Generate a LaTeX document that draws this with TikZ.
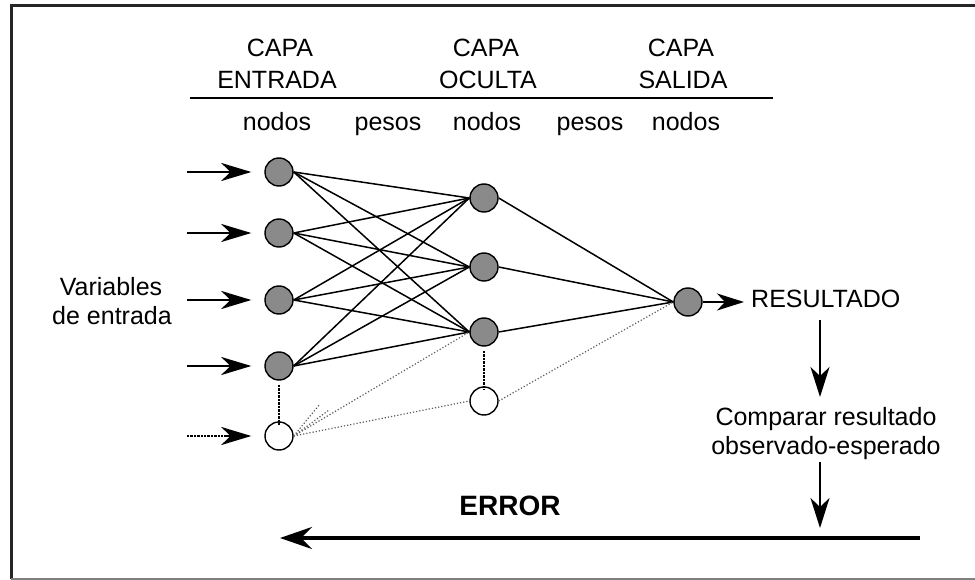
\documentclass[tikz,border=0pt]{standalone}
\usepackage{fontspec}
\setmainfont{Liberation Sans}
\usetikzlibrary{arrows.meta}
\definecolor{nodegray}{RGB}{138,138,138}
\definecolor{dotgray}{RGB}{90,90,90}
\begin{document}
\begin{tikzpicture}[x=1pt,y=-1pt,
  neuron/.style={circle,draw=black,line width=1.4pt,fill=nodegray,minimum size=28pt,inner sep=0pt},
  blank/.style={neuron,fill=white},
  wire/.style={line width=1.5pt},
  dwire/.style={line width=1.2pt,dotted,dotgray},
  vdots/.style={line width=2.5pt,densely dotted,black},
  inarrow/.style={line width=2.4pt,-{Stealth[length=30pt,width=18pt,inset=9pt]},shorten >=13pt},
  outarrow/.style={line width=2.4pt,-{Stealth[length=27pt,width=17pt,inset=8pt]}},
  downarrow/.style={line width=2.4pt,-{Stealth[length=30pt,width=19pt,inset=9pt]}},
  txt/.style={font=\fontsize{25}{30}\selectfont,inner sep=0pt,anchor=base},
  boldtxt/.style={font=\fontsize{28}{32}\selectfont\bfseries,inner sep=0pt,anchor=base}
]
\useasboundingbox (0,0) rectangle (975,580);
% frame
\draw[line width=3pt,black!85] (990,6) -- (11,6) -- (11,579);
\draw[line width=2pt,gray] (11,579) -- (990,579);

% header
\node[txt] (c1a) at (280,57) {CAPA};
\node[txt] (c1b) at (277,89) {ENTRADA};
\node[txt] (c2a) at (486,57) {CAPA};
\node[txt] (c2b) at (488,89) {OCULTA};
\node[txt] (c3a) at (681,57) {CAPA};
\node[txt] (c3b) at (683,89) {SALIDA};
\coordinate (hl) at (190,98);
\coordinate (hr) at (773,98);
\draw[line width=2.2pt] (hl) -- (hr);
\node[txt] (n1) at (277,131) {nodos};
\node[txt] (p1) at (388,131) {pesos};
\node[txt] (n2) at (487,131) {nodos};
\node[txt] (p2) at (590,131) {pesos};
\node[txt] (n3) at (686,131) {nodos};

% neurons
\node[neuron] (i1) at (279,172) {};
\node[neuron] (i2) at (279,233) {};
\node[neuron] (i3) at (279,300) {};
\node[neuron] (i4) at (279,366) {};
\node[blank]  (i5) at (279,436) {};
\node[neuron] (h1) at (484,198) {};
\node[neuron] (h2) at (484,267) {};
\node[neuron] (h3) at (484,332) {};
\node[blank]  (h4) at (484,401) {};
\node[neuron] (o)  at (688,302) {};

% input arrows
\foreach \n/\y in {1/172,2/233,3/300,4/366}{
  \coordinate (s\n) at (187,\y);
  \draw[inarrow] (s\n) -- (i\n.west);
}
\coordinate (s5) at (187,436);
\draw[line width=2.4pt,densely dotted] (s5) -- (228,436);
\coordinate (s5b) at (226,436);
\draw[inarrow] (s5b) -- (i5.west);

% weights input -> hidden
\foreach \i in {1,2,3,4}{
  \foreach \h in {1,2,3}{
    \draw[wire] (i\i.east) -- (h\h.west);
  }
}
% dotted
\draw[vdots] (i4.south) ++(0,4) -- ([yshift=-4pt]i5.north);
\draw[vdots] (h3.south) ++(0,4) -- ([yshift=-4pt]h4.north);
\coordinate (st1) at (320,404);
\coordinate (st2) at (329,410);
\draw[dwire] (i5.east) -- (st1);
\draw[dwire] (i5.east) -- (st2);
\draw[dwire] (i5.east) -- (h3.west);
\draw[dwire] (i5.east) -- (h4.west);

% hidden -> output
\foreach \h in {1,2,3}{
  \draw[wire] (h\h.east) -- (o.west);
}
\draw[dwire] (h4.east) -- (o.west);

% output
\node[txt,anchor=base west] (res) at (751,307) {RESULTADO};
\draw[outarrow] (o.east) -- ([xshift=-7pt]res.west |- o.east);

\node[txt] (cmp1) at (826,425) {Comparar resultado};
\node[txt] (cmp2) at (826,454) {observado-esperado};
\coordinate (d1a) at (820,320);
\coordinate (d1b) at (820,397);
\draw[downarrow] (d1a) -- (d1b);
\coordinate (d2a) at (820,462);
\coordinate (d2b) at (820,528);
\draw[downarrow] (d2a) -- (d2b);

\coordinate (er) at (920,538);
\coordinate (el) at (280,538);
\draw[line width=4.5pt,-{Stealth[length=32pt,width=22pt,inset=11pt]}] (er) -- (el);
\node[boldtxt] (err) at (510,515) {ERROR};

% left label
\node[txt] (v1) at (111,295) {Variables};
\node[txt] (v2) at (112,324) {de entrada};
\end{tikzpicture}
\end{document}
